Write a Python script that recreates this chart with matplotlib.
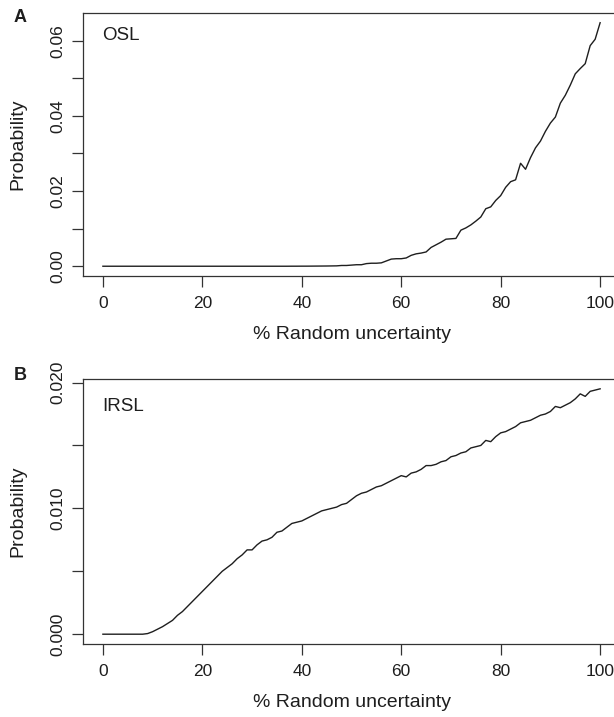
import numpy as np
import matplotlib
matplotlib.use('Agg')
import matplotlib.pyplot as plt

plt.rcParams['font.family'] = ['Liberation Sans', 'DejaVu Sans']

# % random uncertainty (x) and probability for each luminescence signal
uncertainty = list(range(0, 101))

osl_prob = [0.0] * 38 + [
    0.00001, 0.00001, 0.00002, 0.00002, 0.00003, 0.00004, 0.00005, 0.00006,
    0.00008, 0.0001, 0.0002,  # 38-48
    0.0002, 0.0003, 0.0004, 0.0004, 0.0007, 0.0008, 0.0008, 0.0009, 0.0014,
    0.0019, 0.0020, 0.0020, 0.0022, 0.0029, 0.0033, 0.0035, 0.0038, 0.0050,
    0.0057, 0.0064, 0.0072, 0.0073, 0.0074, 0.0096, 0.0102, 0.0110, 0.0120,
    0.0131, 0.0153, 0.0158, 0.0175, 0.0188, 0.0210, 0.0225, 0.0230, 0.0274,
    0.0258, 0.0289, 0.0315, 0.0333, 0.0359, 0.0381, 0.0397, 0.0434, 0.0455,
    0.0482, 0.0512, 0.0526, 0.0539, 0.0587, 0.0604, 0.0648,  # 49-100
]

irsl_prob = [
    0.0, 0.0, 0.0, 0.0, 0.0, 0.0, 0.0, 0.0, 0.0, 0.00005,
    0.0002, 0.0004, 0.0006, 0.00085, 0.0011, 0.0015, 0.0018, 0.0022, 0.0026, 0.0030,
    0.0034, 0.0038, 0.0042, 0.0046, 0.0050, 0.0053, 0.0056, 0.0060, 0.0063, 0.0067,
    0.0067, 0.0071, 0.0074, 0.0075, 0.0077, 0.0081, 0.0082, 0.0085, 0.0088, 0.0089,
    0.0090, 0.0092, 0.0094, 0.0096, 0.0098, 0.0099, 0.0100, 0.0101, 0.0103, 0.0104,
    0.0107, 0.0110, 0.0112, 0.0113, 0.0115, 0.0117, 0.0118, 0.0120, 0.0122, 0.0124,
    0.0126, 0.0125, 0.0128, 0.0129, 0.0131, 0.0134, 0.0134, 0.0135, 0.0137, 0.0138,
    0.0141, 0.0142, 0.0144, 0.0145, 0.0148, 0.0149, 0.0150, 0.0154, 0.0153, 0.0157,
    0.0160, 0.0161, 0.0163, 0.0165, 0.0168, 0.0169, 0.0170, 0.0172, 0.0174, 0.0175,
    0.0177, 0.0181, 0.0180, 0.0182, 0.0184, 0.0187, 0.0191, 0.0189, 0.0193, 0.0194,
    0.0195,
]

x_ticks = [0, 20, 40, 60, 80, 100]
osl_ticks = [0.00, 0.01, 0.02, 0.03, 0.04, 0.05, 0.06]
osl_labels = ['0.00', '', '0.02', '', '0.04', '', '0.06']
irsl_ticks = [0.000, 0.005, 0.010, 0.015, 0.020]
irsl_labels = ['0.000', '', '0.010', '', '0.020']

fig = plt.figure(figsize=(6.14, 7.17), dpi=100)
ax_a = fig.add_axes([0.1352, 0.6151, 0.8746, 0.3668])
ax_b = fig.add_axes([0.1352, 0.1018, 0.8746, 0.3696])

panels = [
    (ax_a, osl_prob, 'OSL', osl_ticks, osl_labels, 0.916),
    (ax_b, irsl_prob, 'IRSL', irsl_ticks, irsl_labels, 0.896),
]

ink = '#1e1e1e'
for ax, prob, name, yt, yl, ty in panels:
    ax.plot(uncertainty, prob, color=ink, lw=1.0)
    ax.margins(x=0.04, y=0.04)
    ax.set_xticks(x_ticks)
    ax.set_yticks(yt)
    ax.set_yticklabels(yl, rotation=90, va='center')
    ax.tick_params(direction='out', length=8, width=0.9, color='#333333',
                   labelsize=12.5, labelcolor=ink)
    ax.tick_params(axis='x', pad=6.5)
    ax.tick_params(axis='y', pad=5)
    for s in ax.spines.values():
        s.set_linewidth(0.9)
        s.set_color('#333333')
    ax.set_xlabel('% Random uncertainty', fontsize=14, color=ink)
    ax.set_ylabel('Probability', fontsize=14, color=ink)
    ax.xaxis.set_label_coords(0.5, -0.19)
    ax.yaxis.set_label_coords(-0.106, 0.5)
    ax.text(0.035, ty, name, transform=ax.transAxes, fontsize=13.5,
            color=ink, va='center')

fig.text(20.5 / 614, 1 - 18 / 717, 'A', fontsize=13, fontweight='bold',
         va='center', ha='center', color=ink)
fig.text(20.5 / 614, 1 - 376 / 717, 'B', fontsize=13, fontweight='bold',
         va='center', ha='center', color=ink)

fig.savefig('out.png', dpi=100)
